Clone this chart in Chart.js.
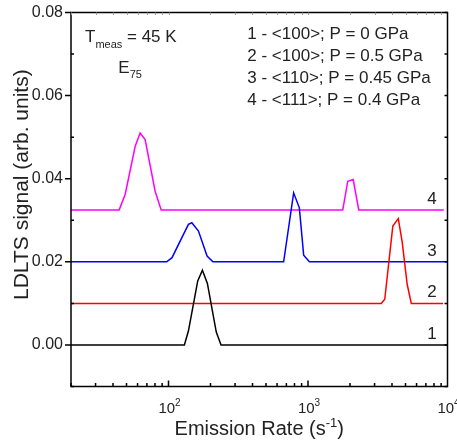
<!DOCTYPE html>
<html>
<head>
<meta charset="utf-8">
<title>LDLTS spectra E75</title>
<script src="https://cdn.jsdelivr.net/npm/chart.js@4/dist/chart.umd.min.js"></script>
<style>
  html,body{margin:0;padding:0;background:#fff;}
  #wrap{width:457px;height:442px;}
</style>
</head>
<body>
<div id="wrap"><canvas id="cv" width="457" height="442"></canvas></div>
<script>
// emission rate (s^-1) / LDLTS signal for each curve
const rate1 = [20, 130, 139, 162, 175, 190, 220, 238, 10000];
const sig1  = [0, 0, 0.0034, 0.0154, 0.0180, 0.0148, 0.0031, 0, 0];

const rate2 = [20, 3350, 3550, 4055, 4440, 4740, 5140, 5500, 9300];
const sig2  = [0.01, 0.01, 0.011, 0.0286, 0.0304, 0.0246, 0.0146, 0.01, 0.01];

const rate3 = [20, 97, 106, 128, 139, 147, 164, 189, 208, 669, 789, 867, 931, 1023, 10000];
const sig3  = [0.02, 0.02, 0.021, 0.0266, 0.029, 0.0294, 0.0274, 0.0214, 0.02, 0.02, 0.0366, 0.033, 0.0216, 0.02, 0.02];

const rate4 = [20, 44.3, 48.9, 57.7, 62.6, 68, 80.2, 88.6, 1775, 1928, 2108, 2312, 9400];
const sig4  = [0.0325, 0.0325, 0.0362, 0.0478, 0.051, 0.0494, 0.037, 0.0325, 0.0325, 0.0394, 0.0398, 0.0325, 0.0325];

const curveColors = ['#000000', '#ff0000', '#0000ff', '#ff00ff'];
const curveTags   = ['1', '2', '3', '4'];
const curveBase   = [0, 0.01, 0.02, 0.0325];

const yTickValues = [0, 0.02, 0.04, 0.06, 0.08];
const yTickLabels = ['0.00', '0.02', '0.04', '0.06', '0.08'];
const xTickValues = [100, 1000, 10000];
const xTickExp    = ['2', '3', '4'];

const legendLines = [
  '1 - <100>; P = 0 GPa',
  '2 - <100>; P = 0.5 GPa',
  '3 - <110>; P = 0.45 GPa',
  '4 - <111>; P = 0.4 GPa'
];

const FONT = '"Liberation Sans", Arial, Helvetica, sans-serif';
const TXT = '#222';

function pts(xs, ys){ return xs.map((x,i)=>({x, y: ys[i]})); }

// text runs with sub/superscripts: [text, size, dy]
function richWidth(ctx, runs){
  let w=0; runs.forEach(([t,s])=>{ ctx.font=`${s}px ${FONT}`; w+=ctx.measureText(t).width; }); return w;
}
function drawRich(ctx, runs, x, y, align){
  let cx = x;
  if(align==='center') cx = x - richWidth(ctx, runs)/2;
  else if(align==='right') cx = x - richWidth(ctx, runs);
  ctx.textAlign='left'; ctx.textBaseline='alphabetic';
  runs.forEach(([t,s,dy])=>{
    ctx.font=`${s}px ${FONT}`;
    ctx.fillText(t, cx, y + (dy||0));
    cx += ctx.measureText(t).width;
  });
}

const decorPlugin = {
  id: 'decor',
  afterDraw(chart){
    const {ctx, chartArea:a, scales:{x, y}} = chart;
    ctx.save();
    ctx.strokeStyle='#000'; ctx.lineWidth=1.5;
    ctx.strokeRect(a.left, a.top, a.right-a.left, a.bottom-a.top);

    // bottom / top ticks (log decades)
    ctx.beginPath();
    [10,100,1000].forEach(d=>{
      for(let m=1;m<=9;m++){
        const v=m*d; if(v<20||v>10000) continue;
        const px=x.getPixelForValue(v); const len = m===1?6:3.5;
        ctx.moveTo(px, a.bottom); ctx.lineTo(px, a.bottom-len);
      }
    });
    ctx.stroke();
    ctx.save(); ctx.strokeStyle='#999'; ctx.lineWidth=1; ctx.beginPath();
    [10,100,1000].forEach(d=>{
      for(let m=1;m<=9;m++){
        const v=m*d; if(v<20||v>10000) continue;
        const px=Math.round(x.getPixelForValue(v))+0.5;
        ctx.moveTo(px, a.top); ctx.lineTo(px, a.top+2.5);
      }
    });
    ctx.stroke(); ctx.restore();

    // left / right ticks
    ctx.beginPath();
    for(let k=-1;k<=8;k++){
      const py=y.getPixelForValue(k*0.01);
      if(k%2===0){ ctx.moveTo(a.left, py); ctx.lineTo(a.left-6, py); }
      else { ctx.moveTo(a.left, py); ctx.lineTo(a.left+3, py); }
      ctx.moveTo(a.right, py); ctx.lineTo(a.right-3, py);
    }
    ctx.stroke();

    ctx.fillStyle=TXT;
    // y tick labels
    ctx.font=`16px ${FONT}`; ctx.textAlign='right'; ctx.textBaseline='middle';
    yTickValues.forEach((v,i)=> ctx.fillText(yTickLabels[i], a.left-8, y.getPixelForValue(v)));
    // x tick labels 10^n
    xTickValues.forEach((v,i)=>{
      drawRich(ctx, [['10',15,0],[xTickExp[i],10,-7]], x.getPixelForValue(v)+1, 412.5, 'center');
    });

    // axis titles
    drawRich(ctx, [['Emission Rate (s',20,0],['-1',13,-8],[')',20,0]], (a.left+a.right)/2, 434.5, 'center');
    ctx.save();
    ctx.translate(28, 300); ctx.rotate(-Math.PI/2);
    ctx.font=`21px ${FONT}`; ctx.textAlign='left'; ctx.textBaseline='alphabetic';
    ctx.fillText('LDLTS signal (arb. units)', 0, 0);
    ctx.restore();

    // annotations
    drawRich(ctx, [['T',17,0],['meas',11,6.5],[' = 45 K',17,0]], 85, 41.7, 'left');
    drawRich(ctx, [['E',17,0],['75',11,5]], 118.3, 73.3, 'left');
    ctx.font=`17px ${FONT}`; ctx.textAlign='left'; ctx.textBaseline='alphabetic';
    legendLines.forEach((t,i)=> ctx.fillText(t, 247.3, 39 + i*22));
    ctx.textAlign='center';
    curveTags.forEach((t,i)=> ctx.fillText(t, 432, y.getPixelForValue(curveBase[i]) - 6));
    ctx.restore();
  }
};

const series = [[rate1,sig1],[rate2,sig2],[rate3,sig3],[rate4,sig4]];

new Chart(document.getElementById('cv'), {
  type: 'line',
  data: {
    datasets: series.map(([xs,ys],i)=>({
      data: pts(xs,ys),
      borderColor: curveColors[i],
      borderWidth: 1.5,
      pointRadius: 0,
      tension: 0,
      fill: false
    }))
  },
  options: {
    responsive: false,
    animation: false,
    devicePixelRatio: 1,
    layout: { padding: { top: 12.5, right: 9.5, left: 0, bottom: 0 } },
    plugins: { legend: { display: false }, tooltip: { enabled: false } },
    scales: {
      x: {
        type: 'logarithmic', min: 20, max: 10000,
        grid: { display: false }, border: { display: false },
        ticks: { display: false },
        afterFit: s => { s.height = 55.5; }
      },
      y: {
        type: 'linear', min: -0.01, max: 0.08,
        grid: { display: false }, border: { display: false },
        ticks: { display: false },
        afterFit: s => { s.width = 71; }
      }
    }
  },
  plugins: [decorPlugin]
});
</script>
</body>
</html>
